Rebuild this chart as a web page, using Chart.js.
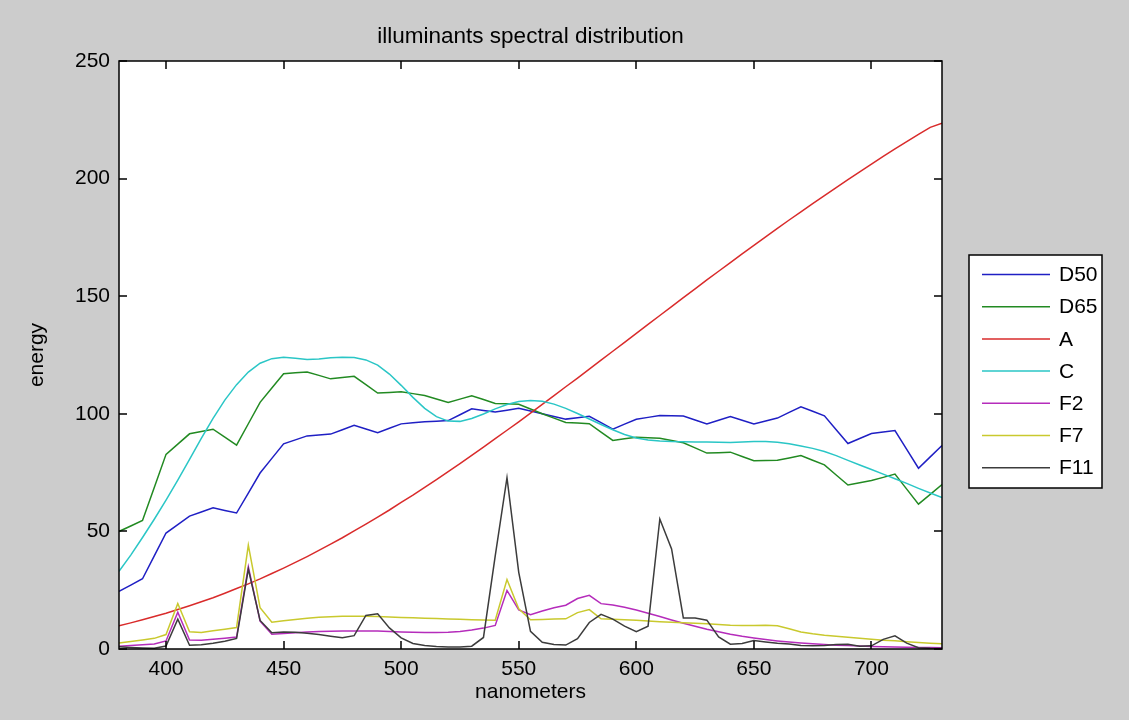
<!DOCTYPE html>
<html>
<head>
<meta charset="utf-8">
<title>illuminants spectral distribution</title>
<script src="https://cdn.jsdelivr.net/npm/chart.js@4.4.1/dist/chart.umd.min.js"></script>
<style>
  html, body { margin: 0; padding: 0; background: #cccccc; }
  #wrap { width: 1129px; height: 720px; }
</style>
</head>
<body>
<div id="wrap"><canvas id="graph" width="1129" height="720"></canvas></div>
<script>
// wavelengths in nm (5 nm steps)
const wavelengths = [
  380, 385, 390, 395, 400, 405, 410, 415, 420, 425, 430, 435, 440, 445, 450, 455, 460, 465, 470, 475,
  480, 485, 490, 495, 500, 505, 510, 515, 520, 525, 530, 535, 540, 545, 550, 555, 560, 565, 570, 575,
  580, 585, 590, 595, 600, 605, 610, 615, 620, 625, 630, 635, 640, 645, 650, 655, 660, 665, 670, 675,
  680, 685, 690, 695, 700, 705, 710, 715, 720, 725, 730
];

const d50 = [
  24.49, 27.18, 29.87, 39.59, 49.31, 52.91, 56.51, 58.27, 60.03, 58.93, 57.82,
  66.32, 74.82, 81.04, 87.25, 88.93, 90.61, 90.99, 91.37, 93.24, 95.11,
  93.54, 91.96, 93.84, 95.72, 96.17, 96.61, 96.87, 97.13, 99.61, 102.10,
  101.43, 100.75, 101.54, 102.32, 101.16, 100.00, 98.87, 97.74, 98.33, 98.92,
  96.21, 93.50, 95.59, 97.69, 98.48, 99.27, 99.16, 99.04, 97.38, 95.72,
  97.29, 98.86, 97.26, 95.67, 96.93, 98.19, 100.60, 103.00, 101.07, 99.13,
  93.26, 87.38, 89.49, 91.60, 92.25, 92.89, 84.87, 76.85, 81.68, 86.51
];

const d65 = [
  49.98, 52.31, 54.65, 68.70, 82.75, 87.12, 91.49, 92.46, 93.43, 90.06, 86.68,
  95.77, 104.86, 110.94, 117.01, 117.41, 117.81, 116.34, 114.86, 115.39, 115.92,
  112.37, 108.81, 109.08, 109.35, 108.58, 107.80, 106.30, 104.79, 106.24, 107.69,
  106.05, 104.41, 104.23, 104.05, 102.02, 100.00, 98.17, 96.33, 96.06, 95.79,
  92.24, 88.69, 89.35, 90.01, 89.80, 89.60, 88.65, 87.70, 85.49, 83.29,
  83.49, 83.70, 81.86, 80.03, 80.12, 80.21, 81.25, 82.28, 80.28, 78.28,
  74.00, 69.72, 70.67, 71.61, 72.98, 74.35, 67.98, 61.60, 65.74, 69.89
];

const illA = [
  9.9, 11.1, 12.4, 13.8, 15.2, 16.8, 18.4, 20.1, 21.8, 23.7, 25.7,
  27.7, 29.8, 32.1, 34.4, 36.8, 39.3, 41.9, 44.6, 47.3, 50.2,
  53.1, 56.1, 59.1, 62.3, 65.4, 68.7, 72.0, 75.4, 78.8, 82.3,
  85.8, 89.4, 93.0, 96.6, 100.3, 104.0, 107.7, 111.5, 115.2, 119.0,
  122.8, 126.6, 130.4, 134.2, 138.0, 141.8, 145.6, 149.4, 153.1, 156.9,
  160.6, 164.3, 168.0, 171.6, 175.2, 178.8, 182.4, 185.9, 189.4, 192.8,
  196.2, 199.6, 202.9, 206.2, 209.4, 212.6, 215.7, 218.8, 221.8, 223.5
];

const illC = [
  33.00, 39.92, 47.40, 55.17, 63.30, 71.81, 80.60, 89.53, 98.10, 105.80, 112.40,
  117.75, 121.50, 123.45, 124.00, 123.60, 123.10, 123.30, 123.80, 124.09, 123.90,
  122.92, 120.70, 116.90, 112.10, 106.98, 102.30, 98.81, 96.90, 96.78, 98.00,
  99.94, 102.10, 103.95, 105.20, 105.67, 105.30, 104.11, 102.30, 100.15, 97.80,
  95.43, 93.20, 91.22, 89.70, 88.83, 88.40, 88.19, 88.10, 88.06, 88.00,
  87.86, 87.80, 87.99, 88.20, 88.20, 87.90, 87.22, 86.30, 85.30, 84.00,
  82.21, 80.20, 78.24, 76.30, 74.36, 72.40, 70.40, 68.30, 66.30, 64.40
];

const f2 = [
  1.18, 1.48, 1.84, 2.15, 3.44, 15.69, 3.85, 3.74, 4.19, 4.62, 5.06,
  34.98, 11.81, 6.27, 6.63, 6.93, 7.19, 7.40, 7.54, 7.62, 7.65,
  7.62, 7.62, 7.45, 7.28, 7.15, 7.05, 7.04, 7.16, 7.47, 8.04,
  8.88, 10.01, 24.88, 16.64, 14.59, 16.16, 17.56, 18.62, 21.47, 22.79,
  19.29, 18.66, 17.73, 16.54, 15.21, 13.80, 12.36, 10.95, 9.65, 8.40,
  7.32, 6.31, 5.43, 4.68, 4.02, 3.45, 2.96, 2.55, 2.19, 1.89,
  1.64, 1.53, 1.27, 1.10, 0.99, 0.88, 0.76, 0.68, 0.61, 0.56
];

const f7 = [
  2.56, 3.18, 3.84, 4.53, 6.15, 19.37, 7.37, 7.05, 7.71, 8.41, 9.15,
  44.14, 17.52, 11.35, 12.00, 12.58, 13.08, 13.45, 13.71, 13.88, 13.95,
  13.93, 13.82, 13.64, 13.43, 13.25, 13.08, 12.93, 12.78, 12.60, 12.44,
  12.33, 12.26, 29.52, 17.05, 12.44, 12.58, 12.72, 12.83, 15.46, 16.75,
  12.83, 12.67, 12.45, 12.19, 11.89, 11.60, 11.35, 11.12, 10.95, 10.76,
  10.42, 10.11, 10.04, 10.02, 10.11, 9.87, 8.65, 7.27, 6.44, 5.83,
  5.41, 5.04, 4.57, 4.12, 3.77, 3.46, 3.08, 2.73, 2.47, 2.25
];

const f11 = [
  0.91, 0.63, 0.46, 0.37, 1.29, 12.68, 1.59, 1.79, 2.46, 3.33, 4.49,
  33.94, 12.13, 6.95, 7.19, 7.12, 6.72, 6.13, 5.46, 4.79, 5.66,
  14.29, 14.96, 8.97, 4.72, 2.33, 1.47, 1.10, 0.89, 0.83, 1.18,
  4.90, 39.59, 72.84, 32.61, 7.52, 2.83, 1.96, 1.67, 4.43, 11.28,
  14.76, 12.73, 9.74, 7.33, 9.72, 55.27, 42.58, 13.18, 13.16, 12.26,
  5.11, 2.07, 2.34, 3.58, 3.01, 2.48, 2.14, 1.54, 1.33, 1.46,
  1.94, 2.00, 1.20, 1.35, 4.10, 5.58, 2.51, 0.57, 0.27, 0.23
];

const seriesNames = ["D50", "D65", "A", "C", "F2", "F7", "F11"];
const seriesValues = [d50, d65, illA, illC, f2, f7, f11];
const seriesColors = ["#1f1fc4", "#228a22", "#d92b2b", "#2ac6c6", "#b52cbb", "#c9c92e", "#3c3c3c"];

const xTicks = [400, 450, 500, 550, 600, 650, 700];
const yTicks = [0, 50, 100, 150, 200, 250];

const FONT = "'Liberation Sans', Arial, sans-serif";
Chart.defaults.font.family = FONT;
Chart.defaults.color = "#000";

// white axes background
const axesBg = {
  id: "axesBg",
  beforeDraw(chart) {
    const { ctx, chartArea: a } = chart;
    ctx.save();
    ctx.fillStyle = "#ffffff";
    ctx.fillRect(a.left, a.top, a.right - a.left, a.bottom - a.top);
    ctx.restore();
  }
};

// matlab style box with inward ticks on all four sides
const axesBox = {
  id: "axesBox",
  afterDatasetsDraw(chart) {
    const { ctx, chartArea: a, scales } = chart;
    const len = 8;
    ctx.save();
    ctx.strokeStyle = "#000";
    ctx.lineWidth = 1.5;
    ctx.strokeRect(a.left, a.top, a.right - a.left, a.bottom - a.top);
    ctx.beginPath();
    xTicks.forEach(v => {
      const px = Math.round(scales.x.getPixelForValue(v));
      ctx.moveTo(px, a.bottom);
      ctx.lineTo(px, a.bottom - len);
      ctx.moveTo(px, a.top);
      ctx.lineTo(px, a.top + len);
    });
    yTicks.forEach(v => {
      const py = Math.round(scales.y.getPixelForValue(v));
      ctx.moveTo(a.left, py);
      ctx.lineTo(a.left + len, py);
      ctx.moveTo(a.right, py);
      ctx.lineTo(a.right - len, py);
    });
    ctx.stroke();
    ctx.restore();
  }
};

// legend box to the right of the axes
const boxLegend = {
  id: "boxLegend",
  afterDraw(chart) {
    const { ctx, chartArea: a } = chart;
    const left = a.right + 27;
    const top = 255;
    const w = 133;
    const rowH = 32.2;
    const h = 233;
    ctx.save();
    ctx.fillStyle = "#ffffff";
    ctx.fillRect(left, top, w, h);
    ctx.strokeStyle = "#000";
    ctx.lineWidth = 1.5;
    ctx.strokeRect(left, top, w, h);
    ctx.font = "21px " + FONT;
    ctx.textBaseline = "middle";
    ctx.fillStyle = "#000";
    chart.data.datasets.forEach((ds, i) => {
      const y = top + 19.5 + i * rowH;
      ctx.strokeStyle = ds.borderColor;
      ctx.lineWidth = 1.5;
      ctx.beginPath();
      ctx.moveTo(left + 13, y);
      ctx.lineTo(left + 81, y);
      ctx.stroke();
      ctx.fillText(ds.label, left + 90, y + 1);
    });
    ctx.restore();
  }
};

const datasets = seriesNames.map((name, i) => ({
  label: name,
  data: wavelengths.map((w, j) => ({ x: w, y: seriesValues[i][j] })),
  borderColor: seriesColors[i],
  borderWidth: 1.5,
  pointRadius: 0,
  tension: 0,
  fill: false,
  order: seriesNames.length - i
}));

new Chart(document.getElementById("graph"), {
  type: "line",
  data: { datasets: datasets },
  options: {
    responsive: false,
    animation: false,
    devicePixelRatio: 1,
    layout: { padding: { left: 0, right: 187, top: 0, bottom: 0 } },
    plugins: {
      legend: { display: false },
      tooltip: { enabled: false },
      title: {
        display: true,
        fullSize: false,
        text: "illuminants spectral distribution",
        color: "#000",
        font: { size: 22.5, weight: "normal" },
        padding: { top: 23, bottom: 11 }
      }
    },
    scales: {
      x: {
        type: "linear",
        min: 380,
        max: 730,
        afterBuildTicks: s => { s.ticks = xTicks.map(v => ({ value: v })); },
        afterFit: s => { s.height = 71; },
        grid: { display: false, drawTicks: false },
        border: { display: false },
        ticks: { padding: 8, maxRotation: 0, autoSkip: false, color: "#000", font: { size: 21 } },
        title: { display: true, text: "nanometers", color: "#000", font: { size: 21 }, padding: { top: 0, bottom: 15 } }
      },
      y: {
        min: 0,
        max: 250,
        afterBuildTicks: s => { s.ticks = yTicks.map(v => ({ value: v })); },
        afterFit: s => { s.width = 119; },
        grid: { display: false, drawTicks: false },
        border: { display: false },
        ticks: { padding: 9, color: "#000", font: { size: 21 } },
        title: { display: true, text: "energy", color: "#000", font: { size: 21 }, padding: { top: 25, bottom: 0 } }
      }
    }
  },
  plugins: [axesBg, axesBox, boxLegend]
});
</script>
</body>
</html>
